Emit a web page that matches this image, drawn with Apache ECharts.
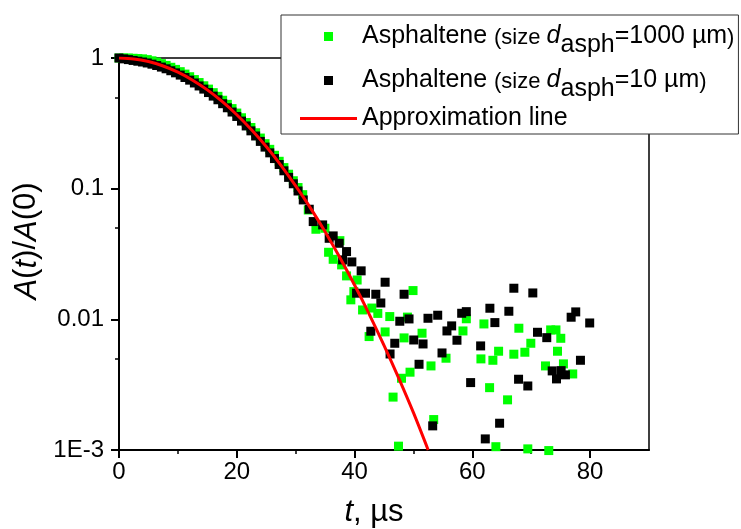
<!DOCTYPE html>
<html>
<head>
<meta charset="utf-8">
<script src="https://cdn.jsdelivr.net/npm/echarts@6/dist/echarts.min.js"></script>
<style>html,body{margin:0;padding:0;background:#fff}#c{width:741px;height:529px}</style>
</head>
<body>
<div id="c"></div>
<script>
// ---- data ----
const greenT = [0,0.8,1.6,2.4,3.2,4,4.8,5.6,6.4,7.2,8,8.8,9.6,10.4,11.2,12,12.8,13.6,14.4,15.2,16,16.8,17.6,18.4,19.2,20,20.8,21.6,22.4,23.2,24,24.8,25.6,26.4,27.2,28,28.8,29.6,30.4,31.2,32.14,33.44,34.97,35.59,36.37,37.51,37.8,38.64,39.37,39.88,40.44,41.36,42.47,42.93,43.95,45.19,45.98,46.54,47.46,47.97,48.41,48.98,49.42,49.93,51.46,52.98,53.44,55.53,58.41,58.98,61.46,61.97,62.93,63.49,64,64.46,65.98,67.05,67.9,68.92,69.42,69.93,72.42,72.98,73.3,74.2,74.46,75.02,75.47,77.05];
const greenA = [1,1,0.999,0.995,0.99,0.985,0.972,0.952,0.93,0.905,0.878,0.849,0.818,0.786,0.753,0.719,0.684,0.649,0.613,0.578,0.543,0.509,0.475,0.442,0.41,0.379,0.349,0.321,0.294,0.268,0.244,0.221,0.2,0.18,0.162,0.145,0.129,0.115,0.102,0.09,0.0687,0.0489,0.0498,0.0326,0.0288,0.04,0.0261,0.0215,0.0141,0.0163,0.02,0.0118,0.00738,0.0122,0.0111,0.00801,0.0105,0.00254,0.00107,0.00354,0.00721,0.0104,0.00394,0.0166,0.00783,0.0044,0.00171,0.00504,0.00815,0.0101,0.00498,0.00922,0.003,0.00486,0.00106,0.0057,0.00242,0.00541,0.00855,0.0056,0.00102,0.00656,0.0044,0.00099,0.0083,0.0083,0.0057,0.00716,0.00456,0.00382];

const blackT = [0,0.8,1.6,2.4,3.2,4,4.8,5.6,6.4,7.2,8,8.8,9.6,10.4,11.2,12,12.8,13.6,14.4,15.2,16,16.8,17.6,18.4,19.2,20,20.8,21.6,22.4,23.2,24,24.8,25.6,26.4,27.2,28,28.8,29.6,30.4,31.29,32.31,32.98,34.58,35.69,36.37,37.39,37.97,38.64,39.54,40.34,41.12,41.86,42.76,43.61,44.46,45.19,46.03,46.83,47.68,48.41,49.25,50.05,50.95,51.63,52.47,53.27,54.12,54.85,55.69,56.49,57.39,58.19,58.98,59.71,61.41,62.2,62.98,63.83,64.63,66.2,67.05,67.85,69.42,70.27,71.07,72.64,73.56,74.29,75.08,75.81,76.78,77.56,78.36,79.93];
const blackA = [1,0.985,0.972,0.958,0.945,0.932,0.916,0.897,0.876,0.852,0.827,0.799,0.77,0.74,0.709,0.677,0.644,0.611,0.578,0.544,0.511,0.479,0.447,0.416,0.386,0.357,0.329,0.302,0.277,0.253,0.23,0.208,0.188,0.17,0.153,0.137,0.122,0.109,0.096,0.082,0.0696,0.056,0.0528,0.0417,0.0435,0.0382,0.0285,0.033,0.0275,0.01585,0.0235,0.01585,0.00811,0.01556,0.01334,0.01923,0.00543,0.00656,0.00967,0.01556,0.01007,0.00695,0.00453,0.00648,0.01019,0.00153,0.01075,0.00553,0.00815,0.00891,0.00692,0.01113,0.01145,0.00328,0.00626,0.001216,0.01216,0.00944,0.001603,0.01153,0.0173,0.00348,0.00309,0.01592,0.00796,0.00724,0.00403,0.0035,0.00405,0.00376,0.01038,0.0114,0.00486,0.00938];

const lineT = [0,2.5,5,7.5,10,12.5,15,17.5,20,22.5,25,27.5,30,32.5,35,37.5,40,42.5,45,47.5,50,52.5];
const lineA = [1,0.9845,0.939,0.8688,0.779,0.6766,0.57,0.465,0.368,0.2821,0.21,0.151,0.105,0.0713,0.0468,0.0297,0.0183,0.01093,0.00633,0.00355,0.00193,0.001];

const xTicks = [0,20,40,60,80];
const xMinorTicks = [10,30,50,70];
const yTicks = [1,0.1,0.01,0.001];
const yTickLabels = ['1','0.1','0.01','1E-3'];
const yMinorTicks = [0.5,0.05,0.005];

const nameGreen = 'Asphaltene (size d_asph=1000 µm)';
const nameBlack = 'Asphaltene (size d_asph=10 µm)';
const nameLine = 'Approximation line';

// ---- chart ----
const FONT = "'Liberation Sans', Arial, sans-serif";
const chart = echarts.init(document.getElementById('c'), null, {renderer: 'canvas'});
const zip = (a, b) => a.map((v, i) => [v, b[i]]);

const LH = 43;
const richLegend = {
  m: {fontSize: 25, fontFamily: FONT, color: '#000', lineHeight: LH, verticalAlign: 'middle'},
  e: {fontSize: 25, fontFamily: FONT, color: '#000', lineHeight: LH, verticalAlign: 'middle'},
  s: {fontSize: 22, fontFamily: FONT, color: '#000', lineHeight: LH, verticalAlign: 'middle', padding: [0,0,-2,0]},
  i: {fontSize: 25, fontFamily: FONT, fontStyle: 'italic', color: '#000', lineHeight: LH, verticalAlign: 'middle'},
  sub: {fontSize: 25, fontFamily: FONT, color: '#000', lineHeight: LH, verticalAlign: 'bottom'}
};
const squareIcon = 'path://M0 0H10V10H0Z';
const lineIcon = 'path://M0 0H100V5.5H0Z';

chart.setOption({
  animation: false,
  backgroundColor: '#fff',
  textStyle: {fontFamily: FONT},
  grid: {left: 119, right: 92, top: 58, bottom: 79, show: true, borderColor: '#000', borderWidth: 1.5, backgroundColor: 'transparent', containLabel: false, outerBoundsMode: 'none'},
  legend: {
    orient: 'vertical',
    left: 281, top: 15,
    padding: [0, 4, 0, 19],
    itemGap: 1,
    itemWidth: 57, itemHeight: 9,
    symbolKeepAspect: true,
    backgroundColor: '#fff',
    borderColor: '#333', borderWidth: 1,
    z: 20,
    data: [
      {name: nameGreen, icon: squareIcon},
      {name: nameBlack, icon: squareIcon},
      {name: nameLine, icon: lineIcon}
    ],
    textStyle: {fontSize: 25, fontFamily: FONT, color: '#000', lineHeight: 31, rich: richLegend},
    formatter: function (name) {
      if (name === nameGreen) return '{m|Asphaltene }{s|(size }{i|d}{sub|asph}{e|=1000 µm}{s|)}';
      if (name === nameBlack) return '{m|Asphaltene }{s|(size }{i|d}{sub|asph}{e|=10 µm}{s|)}';
      return name;
    }
  },
  xAxis: [{
    type: 'value', min: 0, max: 90, interval: 20,
    position: 'bottom',
    axisLine: {show: true, onZero: false, lineStyle: {color: '#000', width: 2}},
    axisTick: {show: true, inside: false, length: 8, lineStyle: {color: '#000', width: 2}, customValues: xTicks},
    axisLabel: {show: true, customValues: xTicks, fontSize: 24, fontFamily: FONT, color: '#000', margin: 10},
    splitLine: {show: false},
    name: '{i|t}{n|, µs}',
    nameLocation: 'middle', nameGap: 47,
    nameTextStyle: {padding: [0, 20, 0, 0], rich: {i: {fontSize: 31, fontStyle: 'italic', fontFamily: FONT, color: '#000'}, n: {fontSize: 31, fontFamily: FONT, color: '#000'}}}
  }, {
    type: 'value', min: 0, max: 90, position: 'bottom',
    axisLine: {show: false},
    axisTick: {show: true, length: 4, lineStyle: {color: '#000', width: 1.5}, customValues: xMinorTicks},
    axisLabel: {show: false},
    splitLine: {show: false}
  }],
  yAxis: [{
    type: 'log', logBase: 10, min: 0.001, max: 1,
    position: 'left',
    axisLine: {show: true, onZero: false, lineStyle: {color: '#000', width: 2}},
    axisTick: {show: true, inside: false, length: 8, lineStyle: {color: '#000', width: 2}, customValues: yTicks},
    axisLabel: {show: true, customValues: yTicks, fontSize: 24, fontFamily: FONT, color: '#000', margin: 15,
      formatter: function (v) {
        for (let k = 0; k < yTicks.length; k++) { if (Math.abs(v - yTicks[k]) / yTicks[k] < 1e-6) return yTickLabels[k]; }
        return '';
      }},
    splitLine: {show: false},
    minorTick: {show: false},
    name: '{i|A}{n|(}{i|t}{n|)/}{i|A}{n|(0)}',
    nameLocation: 'middle', nameGap: 75, nameRotate: 90,
    nameTextStyle: {padding: [0, 0, 0, 26], rich: {i: {fontSize: 31, fontStyle: 'italic', fontFamily: FONT, color: '#000'}, n: {fontSize: 31, fontFamily: FONT, color: '#000'}}}
  }, {
    type: 'log', logBase: 10, min: 0.001, max: 1, position: 'left',
    axisLine: {show: false},
    axisTick: {show: true, length: 4, lineStyle: {color: '#000', width: 1.5}, customValues: yMinorTicks},
    axisLabel: {show: false},
    splitLine: {show: false}
  }],
  series: [{
    name: nameGreen, type: 'scatter', xAxisIndex: 0, yAxisIndex: 0,
    symbol: 'rect', symbolSize: 9, clip: false,
    itemStyle: {color: '#00ff00', opacity: 1},
    data: zip(greenT, greenA)
  }, {
    name: nameBlack, type: 'scatter', xAxisIndex: 0, yAxisIndex: 0,
    symbol: 'rect', symbolSize: 9, clip: false,
    itemStyle: {color: '#000000', opacity: 1},
    data: zip(blackT, blackA)
  }, {
    name: nameLine, type: 'line', xAxisIndex: 0, yAxisIndex: 0,
    showSymbol: false, symbol: 'none', smooth: 0.3,
    lineStyle: {color: '#ff0000', width: 3},
    itemStyle: {color: '#ff0000'},
    data: zip(lineT, lineA)
  }]
});
</script>
</body>
</html>
